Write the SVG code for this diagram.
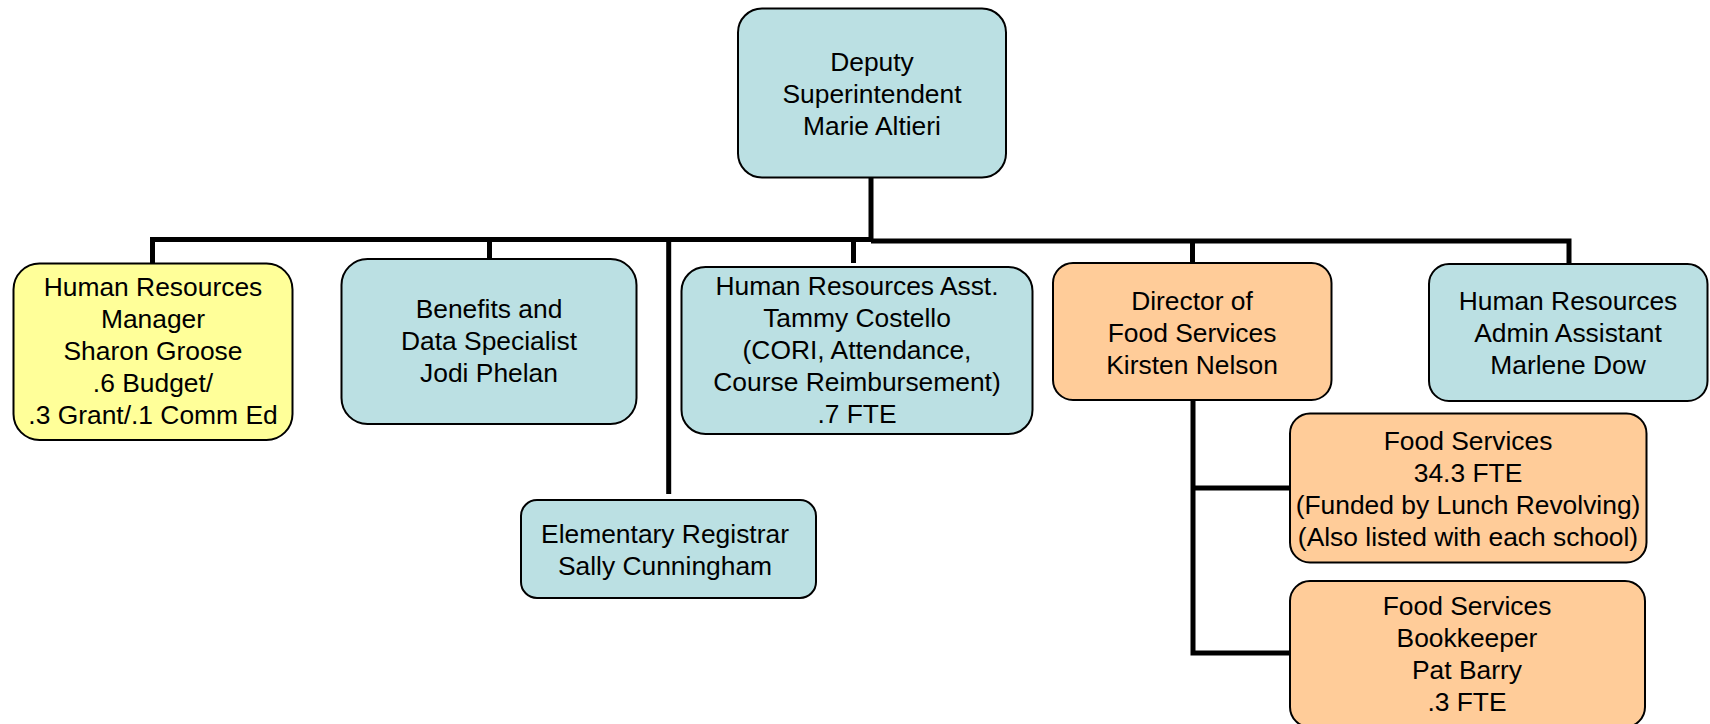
<svg xmlns="http://www.w3.org/2000/svg" width="1710" height="724" viewBox="0 0 1710 724">
<style>
.box{stroke:#000;stroke-width:2}
.teal{fill:#BBE0E3}
.yellow{fill:#FFFF99}
.orange{fill:#FFCC99}
text{font-family:"Liberation Sans",Arial,sans-serif;font-size:26.4px;fill:#000;text-anchor:middle}
.conn{fill:none;stroke:#000;stroke-width:5;stroke-linejoin:miter;stroke-linecap:butt}
</style>
<rect width="1710" height="724" fill="#fff"/>
<g id="connectors">
<path class="conn" d="M871,177 V241"/>
<path class="conn" d="M152.5,263 V239.5 H871"/>
<path class="conn" d="M871,241 H1569 V264"/>
<path class="conn" d="M489.5,239 V259"/>
<path class="conn" d="M668.7,240 V494"/>
<path class="conn" d="M853.5,239 V263"/>
<path class="conn" d="M1192.5,241 V263"/>
<path class="conn" d="M1193,400 V653 H1290"/>
<path class="conn" d="M1193,488 H1290"/>
</g>
<g id="deputy">
<rect class="box teal" x="738" y="8.5" width="268" height="169" rx="24"/>
<text x="872" y="71">Deputy</text>
<text x="872" y="103">Superintendent</text>
<text x="872" y="135">Marie Altieri</text>
</g>
<g id="hr-manager">
<rect class="box yellow" x="13.5" y="263.5" width="279" height="176.5" rx="26"/>
<text x="153" y="296">Human Resources</text>
<text x="153" y="328">Manager</text>
<text x="153" y="360">Sharon Groose</text>
<text x="153" y="392">.6 Budget/</text>
<text x="153" y="424">.3 Grant/.1 Comm Ed</text>
</g>
<g id="benefits">
<rect class="box teal" x="341.5" y="259" width="295" height="165" rx="26"/>
<text x="489" y="318">Benefits and</text>
<text x="489" y="350">Data Specialist</text>
<text x="489" y="382">Jodi Phelan</text>
</g>
<g id="elementary-registrar">
<rect class="box teal" x="521" y="500" width="295" height="98" rx="16"/>
<text x="665" y="543">Elementary Registrar</text>
<text x="665" y="575">Sally Cunningham</text>
</g>
<g id="hr-asst">
<rect class="box teal" x="681.5" y="267" width="351" height="167" rx="24"/>
<text x="857" y="295">Human Resources Asst.</text>
<text x="857" y="327">Tammy Costello</text>
<text x="857" y="359">(CORI, Attendance,</text>
<text x="857" y="391">Course Reimbursement)</text>
<text x="857" y="423">.7 FTE</text>
</g>
<g id="director-food">
<rect class="box orange" x="1053" y="263" width="278.5" height="137" rx="20"/>
<text x="1192" y="310">Director of</text>
<text x="1192" y="342">Food Services</text>
<text x="1192" y="374">Kirsten Nelson</text>
</g>
<g id="hr-admin">
<rect class="box teal" x="1429" y="264" width="278.5" height="137" rx="20"/>
<text x="1568" y="310">Human Resources</text>
<text x="1568" y="342">Admin Assistant</text>
<text x="1568" y="374">Marlene Dow</text>
</g>
<g id="food-services">
<rect class="box orange" x="1290" y="413.5" width="356.5" height="149" rx="20"/>
<text x="1468" y="450">Food Services</text>
<text x="1468" y="482">34.3 FTE</text>
<text x="1468" y="514">(Funded by Lunch Revolving)</text>
<text x="1468" y="546">(Also listed with each school)</text>
</g>
<g id="food-bookkeeper">
<rect class="box orange" x="1290" y="581" width="355" height="146" rx="20"/>
<text x="1467" y="615">Food Services</text>
<text x="1467" y="647">Bookkeeper</text>
<text x="1467" y="679">Pat Barry</text>
<text x="1467" y="711">.3 FTE</text>
</g>
</svg>
